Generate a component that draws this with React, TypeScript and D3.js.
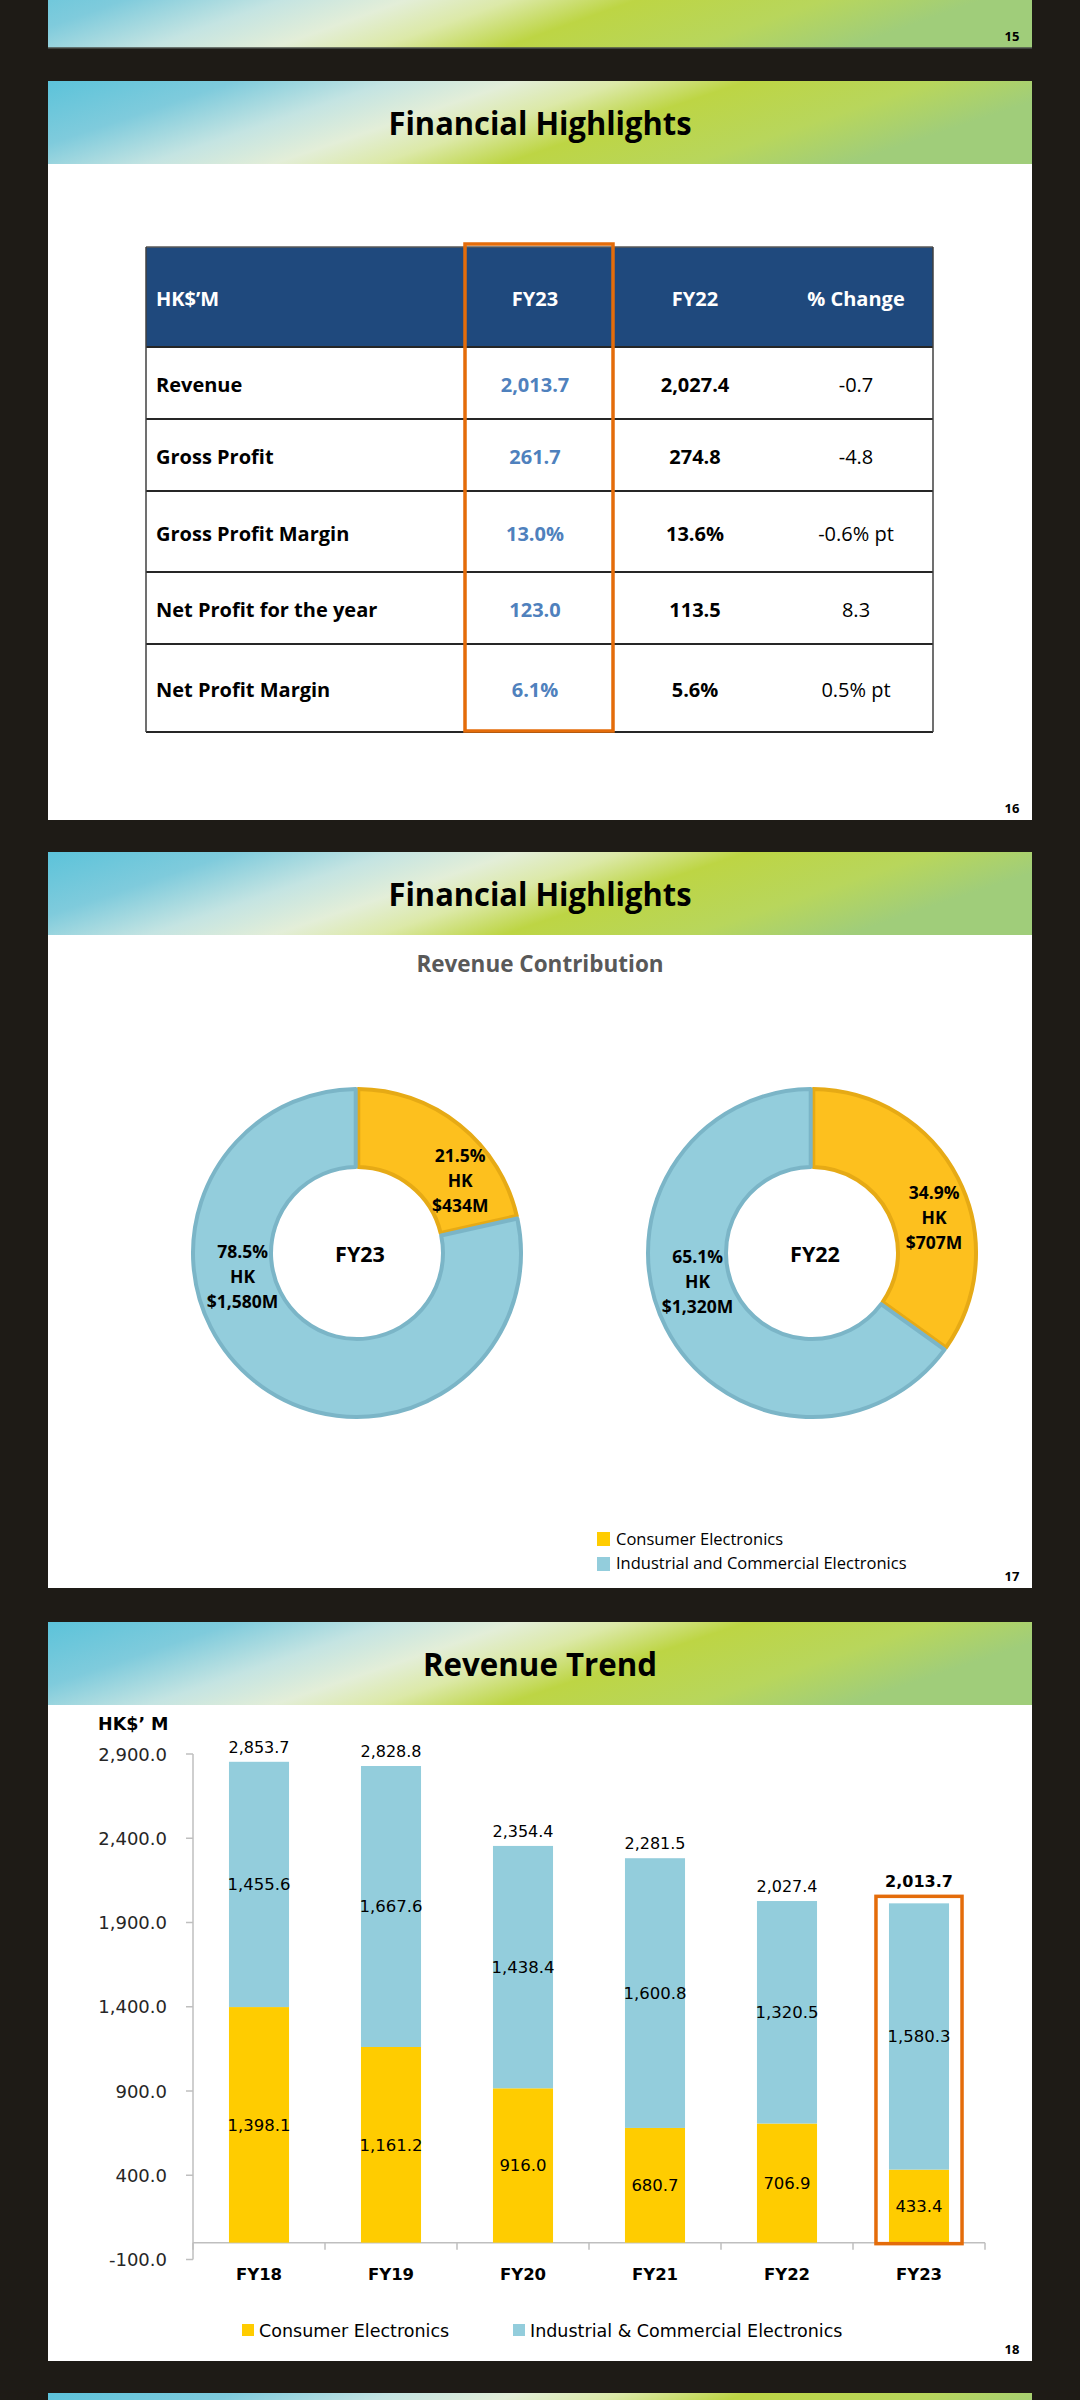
import * as d3 from "d3";

// ─── Data ────────────────────────────────────────────────────────────────────
const tableHeader = ["HK$’M", "FY23", "FY22", "% Change"];
const tableItems = [
  "Revenue",
  "Gross Profit",
  "Gross Profit Margin",
  "Net Profit for the year",
  "Net Profit Margin",
];
const tableFY23 = ["2,013.7", "261.7", "13.0%", "123.0", "6.1%"];
const tableFY22 = ["2,027.4", "274.8", "13.6%", "113.5", "5.6%"];
const tableChange = ["-0.7", "-4.8", "-0.6% pt", "8.3", "0.5% pt"];

const donutSegments = ["Consumer Electronics", "Industrial and Commercial Electronics"];
const donutYears = ["FY23", "FY22"];
const donutShares = [
  [21.5, 78.5],
  [34.9, 65.1],
];
const donutAmounts = [
  ["$434M", "$1,580M"],
  ["$707M", "$1,320M"],
];

const years = ["FY18", "FY19", "FY20", "FY21", "FY22", "FY23"];
const consumer = [1398.1, 1161.2, 916.0, 680.7, 706.9, 433.4];
const industrial = [1455.6, 1667.6, 1438.4, 1600.8, 1320.5, 1580.3];
const totals = [2853.7, 2828.8, 2354.4, 2281.5, 2027.4, 2013.7];
const yTicks = [-100, 400, 900, 1400, 1900, 2400, 2900];
const barLegend = ["Consumer Electronics", "Industrial & Commercial Electronics"];

// ─── Layout / style ──────────────────────────────────────────────────────────
const W = 1080;
const H = 2400;
const SLIDE_X = 48;
const SLIDE_W = 984;
const BG = "#1e1b16";
const SANS = "'Open Sans', 'Liberation Sans', sans-serif";
const VERD = "'DejaVu Sans', Verdana, sans-serif";
const YELLOW = "#ffcc00";
const BLUE = "#93cddc";
const ORANGE = "#e46c0a";

const slides = [
  { top: -40, bottom: 48, num: "15" },
  { top: 81, bottom: 820, num: "16", title: "Financial Highlights", titleLen: 303 },
  { top: 852, bottom: 1588, num: "17", title: "Financial Highlights", titleLen: 303 },
  { top: 1622, bottom: 2361, num: "18", title: "Revenue Trend", titleLen: 234 },
  { top: 2393, bottom: 2480 },
];
const HEADER_H = 83;

// table geometry
const tableLeft = 146;
const tableRight = 933;
const rowEdges = [247, 347, 419, 491, 572, 644, 732];
const colCenters = [0, 535, 695, 856];

// donut geometry
const donutCenters = [
  [357, 1253],
  [812, 1253],
];
const labelPlacement = [
  [
    { deg: 55, r: 126 },
    { deg: 258, r: 117 },
  ],
  [
    { deg: 74, r: 127 },
    { deg: 256, r: 118 },
  ],
];

// bar chart geometry
const plotLeft = 193;
const plotRight = 985;
const y = d3.scaleLinear().domain([-100, 2900]).range([2259.5, 1754]);
const xCat = d3.scaleBand<string>().domain(years).range([plotLeft, plotRight]);
const barW = xCat.bandwidth() * 0.455;
const fmt = (v: number) => d3.format(",.1f")(v).replace("−", "-");

function Header({ top, title, titleLen }: { top: number; title?: string; titleLen?: number }) {
  return (
    <g>
      <rect x={SLIDE_X} y={top} width={SLIDE_W} height={HEADER_H} fill="url(#hdr)" />
      {title && (
        <text
          x={540}
          y={top + 54}
          textAnchor="middle"
          fontFamily={SANS}
          fontWeight="bold"
          fontSize={33}
          textLength={titleLen}
          lengthAdjust="spacingAndGlyphs"
          fill="#000"
        >
          {title}
        </text>
      )}
    </g>
  );
}

export default function App() {
  const pie = d3
    .pie<number>()
    .sort(null)
    .value((d) => d);
  const arc = d3
    .arc<d3.PieArcDatum<number>>()
    .innerRadius(86)
    .outerRadius(164)
    .padAngle(0.014);

  return (
    <svg
      width={W}
      height={H}
      viewBox={`0 0 ${W} ${H}`}
      style={{ position: "absolute", left: 0, top: 0, display: "block" }}
    >
      <defs>
        <linearGradient id="hdr" x1="0" y1="0" x2="1" y2="0.25">
          <stop offset="0%" stopColor="#5cc3da" />
          <stop offset="18%" stopColor="#7fcbdc" />
          <stop offset="33%" stopColor="#c4e4e2" />
          <stop offset="45%" stopColor="#e3eed8" />
          <stop offset="55%" stopColor="#dce9a8" />
          <stop offset="67%" stopColor="#bdd544" />
          <stop offset="85%" stopColor="#b8d65c" />
          <stop offset="100%" stopColor="#a0cd7a" />
        </linearGradient>
      </defs>

      <rect x={0} y={0} width={W} height={H} fill={BG} />

      {/* ── Slides ─────────────────────────────────────────────────────── */}
      {slides.map((s, i) => (
        <g key={i}>
          <rect x={SLIDE_X} y={s.top} width={SLIDE_W} height={s.bottom - s.top} fill="#fff" />
          <Header top={s.top} title={s.title} titleLen={s.titleLen} />
          {i === 0 && (
            <>
              <rect x={SLIDE_X} y={s.top} width={SLIDE_W} height={s.bottom - s.top} fill="url(#hdr)" />
              <line x1={SLIDE_X} x2={SLIDE_X + SLIDE_W} y1={s.bottom} y2={s.bottom} stroke="#4a4f4a" strokeWidth={1.5} />
            </>
          )}
          {s.num && (
            <text
              x={1012}
              y={s.bottom - 7}
              textAnchor="middle"
              fontFamily={SANS}
              fontWeight="bold"
              fontSize={13}
              fill="#000"
            >
              {s.num}
            </text>
          )}
        </g>
      ))}

      {/* ── Slide 16: table ────────────────────────────────────────────── */}
      <g>
        <rect
          x={tableLeft}
          y={rowEdges[0]}
          width={tableRight - tableLeft}
          height={rowEdges[1] - rowEdges[0]}
          fill="#1f497d"
        />
        {tableHeader.map((h, j) => (
          <text
            key={h}
            x={j === 0 ? tableLeft + 10 : colCenters[j]}
            y={(rowEdges[0] + rowEdges[1]) / 2 + 9}
            textAnchor={j === 0 ? "start" : "middle"}
            fontFamily={SANS}
            fontWeight="bold"
            fontSize={20}
            fill="#fff"
          >
            {h}
          </text>
        ))}
        {tableItems.map((item, i) => {
          const cy = (rowEdges[i + 1] + rowEdges[i + 2]) / 2 + 9;
          return (
            <g key={item}>
              <text x={tableLeft + 10} y={cy} fontFamily={SANS} fontWeight="bold" fontSize={20} fill="#000">
                {item}
              </text>
              <text x={colCenters[1]} y={cy} textAnchor="middle" fontFamily={SANS} fontWeight="bold" fontSize={20} fill="#4f81bd">
                {tableFY23[i]}
              </text>
              <text x={colCenters[2]} y={cy} textAnchor="middle" fontFamily={SANS} fontWeight="bold" fontSize={20} fill="#000">
                {tableFY22[i]}
              </text>
              <text x={colCenters[3]} y={cy} textAnchor="middle" fontFamily={SANS} fontSize={20} fill="#000">
                {tableChange[i]}
              </text>
            </g>
          );
        })}
        {rowEdges.slice(1).map((ry, i) => (
          <line key={i} x1={tableLeft} x2={tableRight} y1={ry} y2={ry} stroke="#262626" strokeWidth={1.8} />
        ))}
        <line x1={tableLeft} x2={tableRight} y1={rowEdges[0]} y2={rowEdges[0]} stroke="#595959" strokeWidth={1.5} />
        <line x1={tableLeft} x2={tableLeft} y1={rowEdges[0]} y2={rowEdges[6]} stroke="#404040" strokeWidth={1.5} />
        <line x1={tableRight} x2={tableRight} y1={rowEdges[0]} y2={rowEdges[6]} stroke="#404040" strokeWidth={1.5} />
        <rect x={465} y={244} width={148} height={487} fill="none" stroke={ORANGE} strokeWidth={3.5} />
      </g>

      {/* ── Slide 17: donuts ───────────────────────────────────────────── */}
      <text x={540} y={972} textAnchor="middle" fontFamily={SANS} fontWeight="bold" fontSize={22.5} fill="#595959">
        Revenue Contribution
      </text>
      {donutYears.map((yr, k) => {
        const [cx, cy] = donutCenters[k];
        const arcs = pie(donutShares[k]);
        return (
          <g key={yr} transform={`translate(${cx},${cy})`}>
            {arcs.map((a, j) => (
              <path
                key={j}
                d={arc(a) ?? ""}
                fill={j === 0 ? "#fdc01e" : BLUE}
                stroke={j === 0 ? "#e6aa15" : "#7bb5c7"}
                strokeWidth={4}
                strokeLinejoin="round"
              />
            ))}
            {arcs.map((a, j) => {
              const p = labelPlacement[k][j];
              const [lx, ly] = d3.pointRadial((p.deg * Math.PI) / 180, p.r);
              const lines = [`${donutShares[k][j].toFixed(1)}%`, "HK", donutAmounts[k][j]];
              return (
                <text
                  key={`l${j}`}
                  textAnchor="middle"
                  fontFamily={SANS}
                  fontWeight="bold"
                  fontSize={17.5}
                  fill="#000"
                >
                  {lines.map((t, li) => (
                    <tspan key={li} x={lx} y={ly + 6 + (li - 1) * 25}>
                      {t}
                    </tspan>
                  ))}
                </text>
              );
            })}
            <text x={3} y={9} textAnchor="middle" fontFamily={SANS} fontWeight="bold" fontSize={21.5} fill="#000">
              {yr}
            </text>
          </g>
        );
      })}
      {donutSegments.map((s, j) => (
        <g key={s}>
          <rect x={597} y={1532 + j * 25} width={13} height={14} fill={j === 0 ? YELLOW : BLUE} />
          <text x={616} y={1545 + j * 24} fontFamily={SANS} fontSize={16.5} fill="#000">
            {s}
          </text>
        </g>
      ))}

      {/* ── Slide 18: stacked bars ─────────────────────────────────────── */}
      <text x={98} y={1730} fontFamily={VERD} fontWeight="bold" fontSize={17.5} fill="#000">
        HK$’ M
      </text>
      <line x1={plotLeft} x2={plotLeft} y1={y(2900)} y2={y(-100)} stroke="#bfbfbf" strokeWidth={1.5} />
      {yTicks.map((t) => (
        <g key={t}>
          <line x1={plotLeft - 7} x2={plotLeft} y1={y(t)} y2={y(t)} stroke="#bfbfbf" strokeWidth={1.5} />
          <text x={167} y={y(t) + 6.5} textAnchor="end" fontFamily={VERD} fontSize={18} fill="#262626">
            {fmt(t)}
          </text>
        </g>
      ))}
      <line x1={plotLeft} x2={plotRight} y1={y(0)} y2={y(0)} stroke="#bfbfbf" strokeWidth={1.5} />
      {[...years.map((d) => xCat(d) as number), plotRight].map((tx, i) => (
        <line key={i} x1={tx} x2={tx} y1={y(0)} y2={y(0) + 7} stroke="#bfbfbf" strokeWidth={1.5} />
      ))}
      {years.map((yr, i) => {
        const bx = (xCat(yr) as number) + (xCat.bandwidth() - barW) / 2;
        const mid = bx + barW / 2;
        const last = i === years.length - 1;
        return (
          <g key={yr}>
            <rect x={bx} y={y(consumer[i])} width={barW} height={y(0) - y(consumer[i])} fill={YELLOW} />
            <rect
              x={bx}
              y={y(totals[i])}
              width={barW}
              height={y(consumer[i]) - y(totals[i])}
              fill={BLUE}
            />
            <text x={mid} y={y(consumer[i] / 2) + 6} textAnchor="middle" fontFamily={VERD} fontSize={16.5} fill="#000">
              {fmt(consumer[i])}
            </text>
            <text
              x={mid}
              y={y(consumer[i] + industrial[i] / 2) + 6}
              textAnchor="middle"
              fontFamily={VERD}
              fontSize={16.5}
              fill="#000"
            >
              {fmt(industrial[i])}
            </text>
            <text
              x={mid}
              y={y(totals[i]) - (last ? 16 : 9)}
              textAnchor="middle"
              fontFamily={VERD}
              fontWeight={last ? "bold" : "normal"}
              fontSize={16}
              fill="#000"
            >
              {fmt(totals[i])}
            </text>
            <text x={mid} y={2280} textAnchor="middle" fontFamily={VERD} fontWeight="bold" fontSize={16.5} fill="#000">
              {yr}
            </text>
            {last && (
              <rect
                x={bx - 13}
                y={y(totals[i]) - 7}
                width={barW + 26}
                height={y(0) - y(totals[i]) + 8}
                fill="none"
                stroke={ORANGE}
                strokeWidth={3.5}
              />
            )}
          </g>
        );
      })}
      {barLegend.map((s, j) => {
        const lx = j === 0 ? 242 : 513;
        return (
          <g key={s}>
            <rect x={lx} y={2324} width={12} height={12} fill={j === 0 ? YELLOW : BLUE} />
            <text x={lx + 17} y={2337} fontFamily={VERD} fontSize={17.5} fill="#000">
              {s}
            </text>
          </g>
        );
      })}
    </svg>
  );
}
